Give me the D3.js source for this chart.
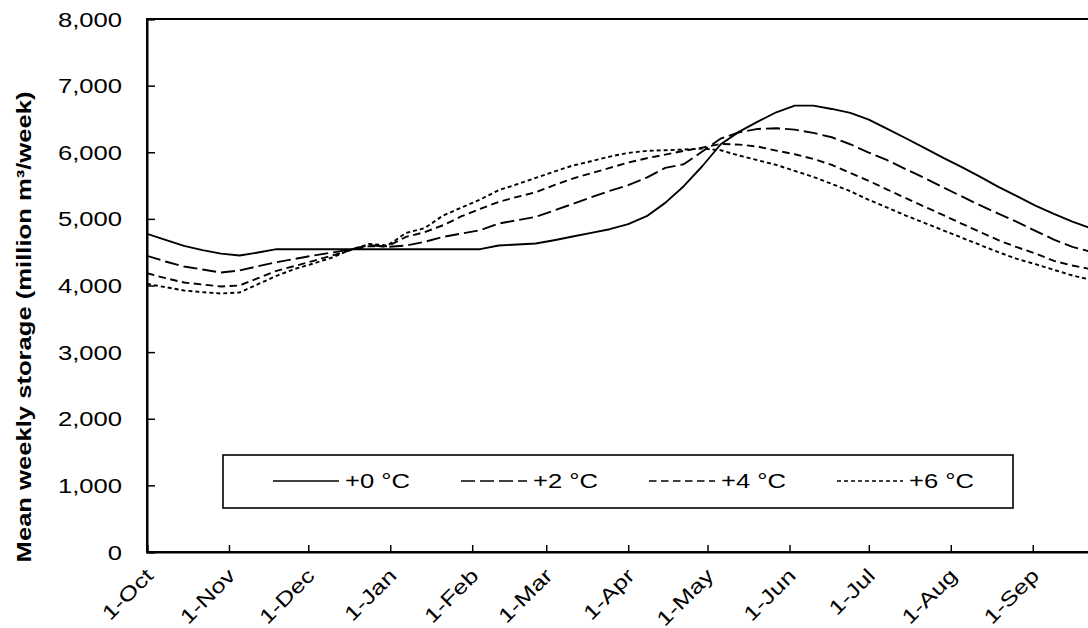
<!DOCTYPE html>
<html>
<head>
<meta charset="utf-8">
<script src="https://cdn.jsdelivr.net/npm/d3@7"></script>
<style>
  html, body { margin: 0; padding: 0; background: #fff; }
  text { font-family: "Liberation Sans", Arial, sans-serif; fill: #000; }
</style>
</head>
<body>
<svg id="chart" width="1088" height="628"></svg>
<script>
// Mean weekly reservoir storage over a water year (Oct–Sep), by warming scenario.
const weekStart = "2001-10-01";
const weekCount = 52;

const storage0 = [4775, 4685, 4595, 4530, 4478, 4450, 4495, 4545, 4545, 4545, 4545, 4545, 4545,
  4545, 4545, 4545, 4545, 4545, 4545, 4600, 4615, 4630, 4680, 4735, 4790, 4845, 4920, 5040,
  5240, 5490, 5790, 6120, 6310, 6460, 6600, 6700, 6700, 6650, 6590, 6490, 6350, 6210, 6065,
  5920, 5780, 5635, 5480, 5340, 5200, 5075, 4960, 4860];
const storage2 = [4445, 4360, 4285, 4240, 4195, 4225, 4290, 4350, 4400, 4450, 4495, 4540, 4605,
  4580, 4600, 4655, 4730, 4780, 4830, 4930, 4980, 5030, 5125, 5225, 5325, 5420, 5505, 5620,
  5765, 5820, 6010, 6205, 6300, 6350, 6360, 6340, 6290, 6225, 6120, 5995, 5880, 5745, 5615,
  5475, 5340, 5205, 5080, 4955, 4820, 4690, 4580, 4505];
const storage4 = [4185, 4110, 4045, 4015, 3985, 4000, 4110, 4220, 4295, 4370, 4450, 4530, 4590,
  4590, 4730, 4800, 4905, 5040, 5150, 5255, 5330, 5400, 5505, 5605, 5685, 5765, 5845, 5910,
  5965, 6020, 6070, 6125, 6115, 6085, 6025, 5970, 5900, 5810, 5690, 5570, 5440, 5310, 5185,
  5060, 4930, 4805, 4680, 4575, 4480, 4370, 4300, 4245];
const storage6 = [4025, 3975, 3925, 3900, 3880, 3895, 4020, 4145, 4250, 4330, 4420, 4535, 4625,
  4600, 4790, 4860, 5050, 5170, 5290, 5430, 5520, 5615, 5710, 5800, 5865, 5935, 5990, 6020,
  6030, 6040, 6055, 6030, 5950, 5880, 5810, 5720, 5630, 5525, 5415, 5285, 5170, 5050, 4940,
  4830, 4720, 4610, 4500, 4400, 4320, 4235, 4150, 4085];

const seriesNames = ["+0 °C", "+2 °C", "+4 °C", "+6 °C"];
const monthLabels = ["1-Oct", "1-Nov", "1-Dec", "1-Jan", "1-Feb", "1-Mar", "1-Apr",
  "1-May", "1-Jun", "1-Jul", "1-Aug", "1-Sep"];
const yTicks = [0, 1000, 2000, 3000, 4000, 5000, 6000, 7000, 8000];

const dashes = [null, "14,5", "7.5,4.5", "4,3"];
const textStretch = 1.28;

const parse = d3.timeParse("%Y-%m-%d");
const t0 = parse(weekStart);
const weeks = d3.range(weekCount).map(i => d3.timeDay.offset(t0, 7 * i));
const yearEnd = d3.timeYear.offset(t0, 1);

const series = [storage0, storage2, storage4, storage6].map((vals, i) => ({
  name: seriesNames[i],
  dash: dashes[i],
  points: vals.map((v, j) => ({ date: weeks[j], value: v }))
}));

const svg = d3.select("#chart");
const plot = { left: 147, top: 19, bottom: 552, right: 147 + 365 * 2.644 };

const x = d3.scaleTime().domain([t0, yearEnd]).range([plot.left, plot.right]);
const y = d3.scaleLinear().domain([0, 8000]).range([plot.bottom, plot.top]);

svg.append("clipPath").attr("id", "plotClip")
  .append("rect").attr("x", plot.left).attr("y", plot.top)
  .attr("width", plot.right - plot.left).attr("height", plot.bottom - plot.top);

// Series lines
const line = d3.line().x(d => x(d.date)).y(d => y(d.value));
const lines = svg.append("g").attr("clip-path", "url(#plotClip)");
series.forEach(s => {
  lines.append("path")
    .datum(s.points)
    .attr("d", line)
    .attr("fill", "none")
    .attr("stroke", "#000")
    .attr("stroke-width", 1.9)
    .attr("stroke-linejoin", "round")
    .attr("stroke-dasharray", s.dash);
});

// Plot frame (top edge; right edge lies beyond the page)
svg.append("rect")
  .attr("x", plot.left).attr("y", plot.top)
  .attr("width", plot.right - plot.left).attr("height", plot.bottom - plot.top)
  .attr("fill", "none").attr("stroke", "#000").attr("stroke-width", 2);

// Y axis
const yAxis = svg.append("g").attr("transform", `translate(${plot.left},0)`)
  .call(d3.axisLeft(y).tickValues(yTicks).tickFormat(d3.format(",")).tickSize(-8).tickPadding(25));
yAxis.select(".domain").attr("stroke-width", 2);
yAxis.selectAll(".tick line").attr("stroke-width", 1.5);
yAxis.selectAll(".tick text")
  .attr("font-size", 20)
  .attr("font-family", "Liberation Sans, Arial, sans-serif")
  .attr("x", 0).attr("dy", "0.35em")
  .attr("transform", `translate(-25,0) scale(${textStretch},1)`);

// X axis
const monthTicks = d3.timeMonth.range(t0, yearEnd);
const xAxis = svg.append("g").attr("transform", `translate(0,${plot.bottom})`)
  .call(d3.axisBottom(x).tickValues(monthTicks).tickFormat((d, i) => monthLabels[i]).tickSize(-7));
xAxis.select(".domain").attr("stroke-width", 2);
xAxis.selectAll(".tick line").attr("stroke-width", 1.5);
xAxis.selectAll(".tick text")
  .attr("font-size", 20)
  .attr("font-family", "Liberation Sans, Arial, sans-serif")
  .attr("x", 0).attr("y", 0).attr("dy", 0)
  .attr("text-anchor", "end")
  .attr("transform", `translate(7,25) rotate(-45) scale(${textStretch},1)`);

// Y axis title
svg.append("text")
  .attr("transform", `translate(31,327) rotate(-90) scale(${textStretch},1)`)
  .attr("text-anchor", "middle")
  .attr("font-size", 20)
  .attr("font-weight", "bold")
  .text("Mean weekly storage (million m³/week)");

// Legend
const legend = svg.append("g");
legend.append("rect")
  .attr("x", 223).attr("y", 455).attr("width", 790).attr("height", 53)
  .attr("fill", "#fff").attr("stroke", "#000").attr("stroke-width", 1.6);
series.forEach((s, i) => {
  const lx = 273 + i * 188;
  legend.append("line")
    .attr("x1", lx).attr("x2", lx + 66).attr("y1", 481).attr("y2", 481)
    .attr("stroke", "#000").attr("stroke-width", 1.4)
    .attr("stroke-dasharray", s.dash);
  legend.append("text")
    .attr("transform", `translate(${lx + 72},488) scale(${textStretch},1)`)
    .attr("font-size", 20)
    .text(s.name);
});
</script>
</body>
</html>
